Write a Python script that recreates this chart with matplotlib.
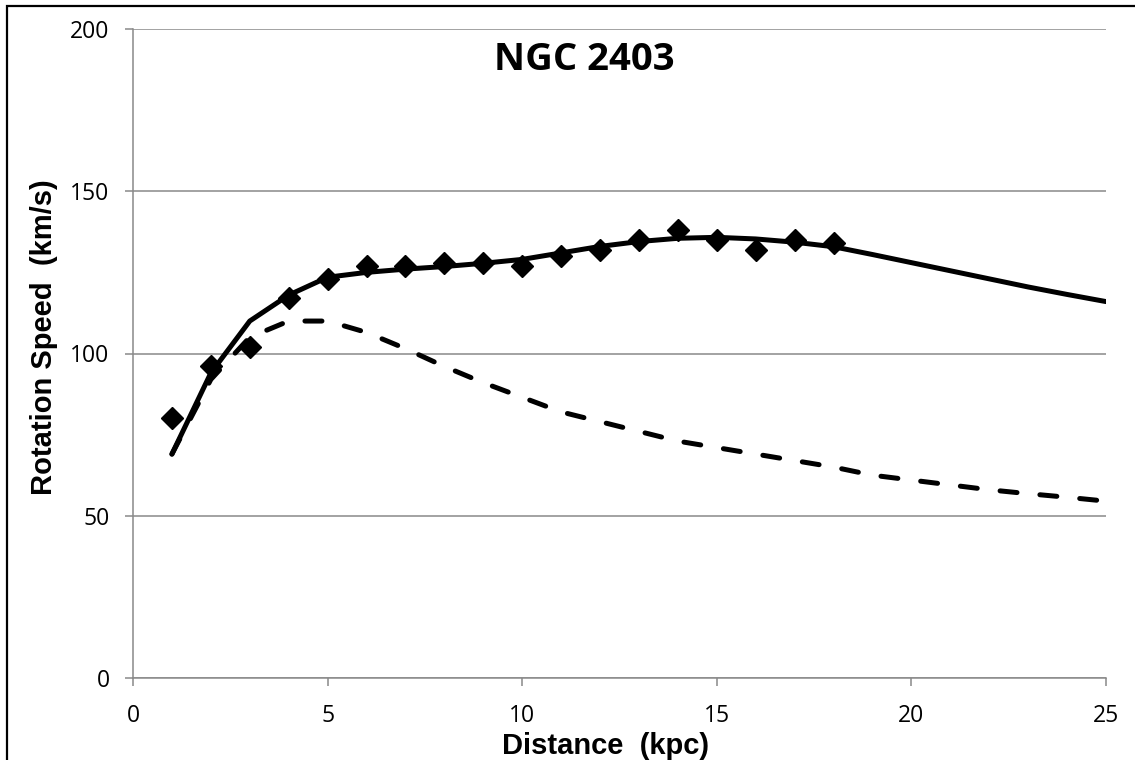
import matplotlib

matplotlib.use("Agg")
from matplotlib import pyplot as plt
from matplotlib.patches import Rectangle

# observed rotation speeds (diamonds)
obs_kpc = [1, 2, 3, 4, 5, 6, 7, 8, 9, 10, 11, 12, 13, 14, 15, 16, 17, 18]
obs_speed = [80, 96, 102, 117, 123, 127, 127, 128, 128, 127, 130, 132, 135, 138, 135, 132, 135, 134]

# model curves
model_kpc = list(range(1, 26))
total_speed = [69, 94, 110, 118, 123.5, 125, 126, 126.8, 127.8, 129, 131, 133, 134.5,
               135.5, 135.8, 135.3, 134.3, 132.9, 130.5, 128, 125.5, 123, 120.5, 118.2, 116]
visible_speed = [69, 92, 105, 110, 110, 106.5, 101.5, 96, 91, 86.5, 82, 79, 76,
                 73, 71, 69, 67, 65, 62.5, 61, 59.5, 58, 56.8, 55.7, 54.5]

x_ticks = [0, 5, 10, 15, 20, 25]
y_ticks = [0, 50, 100, 150, 200]

GRID = "#898989"

fig = plt.figure(figsize=(11.35, 7.6), dpi=100)
ax = fig.add_axes([133 / 1135, 1 - 678 / 760, 973 / 1135, 649 / 760])

ax.plot(model_kpc, total_speed, color="black", linewidth=3.6,
        solid_capstyle="round", solid_joinstyle="round", zorder=3)
ax.plot(model_kpc, visible_speed, color="black", linewidth=3.6,
        dashes=(3.4, 4.6), dash_capstyle="round", zorder=3)
ax.plot(obs_kpc, obs_speed, linestyle="none", marker="D", markersize=11,
        color="black", zorder=4)

ax.set_xlim(0, 25)
ax.set_ylim(0, 200)
ax.set_xticks(x_ticks)
ax.set_yticks(y_ticks)
ax.grid(axis="y", color=GRID, linewidth=1.1)
ax.set_axisbelow(True)

for side in ("top", "right"):
    ax.spines[side].set_visible(False)
for side in ("left", "bottom"):
    ax.spines[side].set_color(GRID)
    ax.spines[side].set_linewidth(1.1)

ax.tick_params(axis="both", direction="out", length=5.8, width=1.1, color=GRID)
ax.tick_params(axis="y", pad=11)
ax.tick_params(axis="x", pad=13)
for label in ax.get_xticklabels() + ax.get_yticklabels():
    label.set_fontfamily("Open Sans")
    label.set_fontsize(16.5)

ax.set_xlabel("Distance  (kpc)", fontsize=21, fontweight="bold",
              family="Liberation Sans", labelpad=2.5)
ax.set_ylabel("Rotation Speed  (km/s)", fontsize=21, fontweight="bold",
              family="Liberation Sans", labelpad=9)
ax.xaxis.label.set_x(0.486)
ax.yaxis.label.set_y(0.525)

ax.text(0.4635, 0.952, "NGC 2403", transform=ax.transAxes, ha="center", va="center",
        fontsize=27.5, fontweight="bold", family="Open Sans")

# chart border (only top/left edges fall inside the image)
fig.patches.append(Rectangle((7 / 1135, -0.1), 1.2, 1.1 - 6 / 760,
                             transform=fig.transFigure, fill=False,
                             edgecolor="black", linewidth=1.6))

fig.savefig("out.png", dpi=100)
